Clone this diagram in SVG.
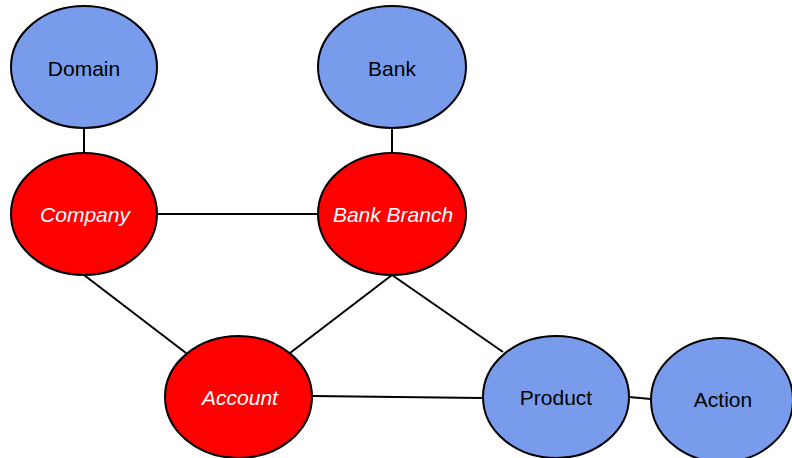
<svg xmlns="http://www.w3.org/2000/svg" width="792" height="458" viewBox="0 0 792 458">
  <style>
    .node { stroke: #000; stroke-width: 2; }
    .entity { fill: #789CEB; }
    .core { fill: #FF0000; }
    .label { font-family: "Liberation Sans", Arial, sans-serif; font-size: 21px; text-anchor: middle; }
    .entity-label { fill: #000; }
    .core-label { fill: #fff; font-style: italic; }
    .edge { stroke: #000; stroke-width: 2; fill: none; }
  </style>
  <rect width="792" height="458" fill="#fff"/>

  <!-- relations -->
  <g id="connectors">
    <line class="edge" x1="84" y1="128" x2="84" y2="153"/>
    <line class="edge" x1="392" y1="128" x2="392" y2="153"/>
    <line class="edge" x1="157" y1="214" x2="318" y2="214"/>
    <line class="edge" x1="84" y1="275" x2="186" y2="353"/>
    <line class="edge" x1="392" y1="275" x2="290" y2="353"/>
    <line class="edge" x1="392" y1="275" x2="503" y2="352"/>
    <line class="edge" x1="312" y1="396" x2="482" y2="398"/>
    <line class="edge" x1="629" y1="397" x2="651" y2="399"/>
  </g>

  <g id="domain">
    <ellipse class="node entity" cx="84" cy="67" rx="73" ry="61"/>
    <text class="label entity-label" x="84" y="76">Domain</text>
  </g>
  <g id="bank">
    <ellipse class="node entity" cx="392" cy="67" rx="74" ry="61"/>
    <text class="label entity-label" x="392" y="76">Bank</text>
  </g>
  <g id="company">
    <ellipse class="node core" cx="84" cy="214" rx="73" ry="61"/>
    <text class="label core-label" x="85" y="222">Company</text>
  </g>
  <g id="bank-branch">
    <ellipse class="node core" cx="392" cy="214" rx="74" ry="61"/>
    <text class="label core-label" x="393" y="222">Bank Branch</text>
  </g>
  <g id="account">
    <ellipse class="node core" cx="238.5" cy="397" rx="73.5" ry="61"/>
    <text class="label core-label" x="240" y="405">Account</text>
  </g>
  <g id="product">
    <ellipse class="node entity" cx="556" cy="397" rx="73" ry="61"/>
    <text class="label entity-label" x="556" y="405">Product</text>
  </g>
  <g id="action">
    <ellipse class="node entity" cx="722" cy="400" rx="71" ry="62"/>
    <text class="label entity-label" x="723" y="407">Action</text>
  </g>
</svg>
